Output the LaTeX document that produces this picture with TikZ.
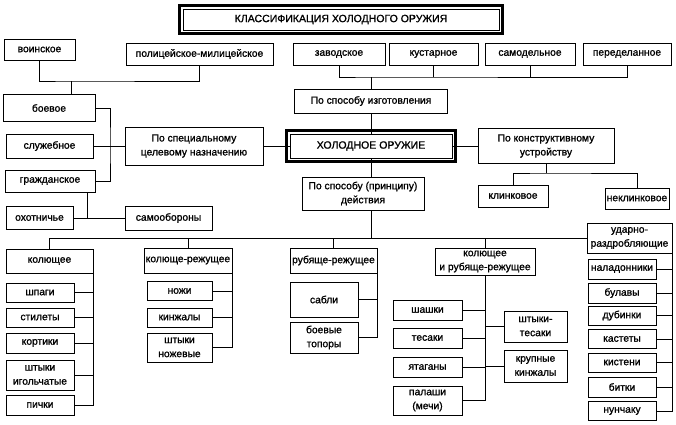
\documentclass[tikz,border=0pt]{standalone}
\usepackage{fontspec}
\setmainfont{Liberation Sans}[RawFeature={embolden=1.2}]
\usepackage{tikz}
\usetikzlibrary{positioning, calc}
\tikzset{box/.style = {draw, line width=0.6pt, inner xsep=0.5pt, inner ysep=1pt, align=center, font=\fontsize{7.7}{10.5}\selectfont},
         sz/.style 2 args = {minimum width=#1*0.75pt, minimum height=#2*0.75pt},
         head/.style = {font=\fontsize{7.9}{10.5}\selectfont},
         frame/.style = {line width=2.2pt}}

\begin{document}
\begin{tikzpicture}[x=0.75pt, y=-0.75pt, line width=0.6pt, every node/.style=box]
            \useasboundingbox (0,0) rectangle (676,425);
            \node[head, sz={316}{21}] (title) at (341,19.5) {КЛАССИФИКАЦИЯ ХОЛОДНОГО ОРУЖИЯ};
            \draw[frame] ([shift={(-3.5,-3.5)}]title.north west) rectangle ([shift={(3.5,3.5)}]title.south east);
            \node[sz={71}{21}]  (voin)    at ( 39.5, 49.5) {воинское};
            \node[sz={147}{22}] (pol)     at (199.5, 54)   {полицейское-милицейское};
            \node[sz={92}{22}]  (zav)     at (339,   54)   {заводское};
            \node[sz={89}{22}]  (kus)     at (433.5, 54)   {кустарное};
            \node[sz={90}{22}]  (samod)   at (530,   54)   {самодельное};
            \node[sz={88}{22}]  (per)     at (627,   54)   {переделанное};
            \node[sz={153}{24}] (sposizg) at (371,  101)   {По способу изготовления};
            \node[sz={92}{27}]  (boev)    at ( 49,  108)   {боевое};
            \node[sz={87}{24}]  (sluzh)   at ( 49.5,146)   {служебное};
            \node[sz={138}{38}] (spec)    at (194,  146)   {По специальному\\целевому назначению};
            \node[sz={90}{22}]  (grazh)   at ( 50,  181)   {гражданское};
            \node[sz={67}{23}]  (ohot)    at ( 39.5,218)   {охотничье};
            \node[sz={87}{24}]  (samoob)  at (168.5,218)   {самообороны};
            \node[head, sz={162}{24}] (holod) at (371,146) {ХОЛОДНОЕ ОРУЖИЕ};
            \draw[frame] ([shift={(-3.5,-3.5)}]holod.north west) rectangle ([shift={(3.5,3.5)}]holod.south east);
            \node[sz={136}{35}] (konstr)  at (546,  146)   {По конструктивному\\устройству};
            \node[sz={122}{33}] (deistv)  at (363,  193.5) {По способу (принципу)\\действия};
            \node[sz={70}{22}]  (klink)   at (513,  196)   {клинковое};
            \node[sz={64}{21}]  (neklink) at (637,  198.5) {неклинковое};
            \node[sz={85}{30}]  (udar)    at (629.5,238)   {ударно-\\раздробляющие};
            \node[sz={87}{24}]  (kol)     at ( 49.5,261)   {колющее};
            \node[sz={88}{25}]  (kolrezh) at (188,  260.5) {колюще-режущее};
            \node[sz={87}{25}]  (rubrezh) at (333.5,260.5) {рубяще-режущее};
            \node[sz={100}{27}] (kolrub)  at (485,  261.5) {колющее\\и рубяще-режущее};
            \node[sz={68}{19}]  (shpagi)   at ( 40, 292.5) {шпаги};
            \node[sz={68}{19}]  (stilety)  at ( 40, 317.5) {стилеты};
            \node[sz={68}{20}]  (kortiki)  at ( 40, 343)   {кортики};
            \node[sz={68}{30}]  (shtykiig) at ( 40, 375)   {штыки\\игольчатые};
            \node[sz={68}{20}]  (pichki)   at ( 40, 405)   {пички};
            \node[sz={65}{19}]  (nozhi)    at (179.5,291)  {ножи};
            \node[sz={65}{19}]  (kinzh)    at (179.5,317.5) {кинжалы};
            \node[sz={65}{29}]  (shtykinozh) at (179.5,347.5) {штыки\\ножевые};
            \node[sz={68}{35}]  (sabli)    at (324, 299.5) {сабли};
            \node[sz={68}{31}]  (topory)   at (324, 337.5) {боевые\\топоры};
            \node[sz={69}{20}]  (shashki)  at (427.5,310)  {шашки};
            \node[sz={69}{20}]  (tesaki)   at (427.5,338)  {тесаки};
            \node[sz={69}{20}]  (yatag)    at (427.5,367)  {ятаганы};
            \node[sz={69}{29}]  (palashi)  at (427.5,400.5) {палаши\\(мечи)};
            \node[sz={63}{31}]  (shtyktes) at (535.5,326.5) {штыки-\\тесаки};
            \node[sz={63}{32}]  (krupkinzh) at (535.5,366) {крупные\\кинжалы};
            \node[sz={68}{20}]  (naladon)  at (622, 269)   {наладонники};
            \node[sz={68}{20}]  (bulavy)   at (622, 293)   {булавы};
            \node[sz={68}{19}]  (dubinki)  at (622, 315.5) {дубинки};
            \node[sz={68}{19}]  (kastety)  at (622, 339)   {кастеты};
            \node[sz={68}{19}]  (kisteni)  at (622, 362.5) {кистени};
            \node[sz={68}{20}]  (bitki)    at (622, 387)   {битки};
            \node[sz={68}{19}]  (nunch)    at (622, 411)   {нунчаку};
            \coordinate (voinbus) at (71,81);
            \coordinate (izgbus) at (371,77);
            \coordinate (naznbus) at (110,146);
            \coordinate (grazhbus) at (87,218);
            \coordinate (konbus) at (546,173);
            \draw (voin.south) |- (voinbus) -| (pol.south);
            \draw (voinbus) -- (voinbus |- boev.north);
            \draw (zav.south) |- (izgbus) -| (per.south);
            \foreach \n in {kus,samod} \draw (\n.south) -- (\n.south |- izgbus);
            \draw (izgbus) -- (sposizg.north);
            \draw (sposizg.south) -- (holod.north);
            \draw (boev.east) -| (naznbus) |- (grazh.east);
            \draw (sluzh.east) -- (spec.west);
            \draw (spec.east) -- (holod.west);
            \draw (holod.east) -- (konstr.west);
            \draw (grazhbus |- grazh.south) -- (grazhbus);
            \draw (ohot.east) -- (samoob.west);
            \draw (konstr.south) -- (konbus);
            \draw (klink.north) |- (konbus) -| (neklink.north);
            \draw (holod.south) -- (holod.south |- deistv.north);
            \draw (holod.south |- deistv.south) -- (holod.south |- udar.west);
            \draw (kol.north) |- (udar.west);
            \foreach \n in {kolrezh,rubrezh,kolrub} \draw (\n.north) -- (\n.north |- udar.west);
            \draw (kol.south east) |- (pichki.east);
            \foreach \n in {shpagi,stilety,kortiki,shtykiig} \draw (\n.east) -- (\n.east -| kol.east);
            \draw (kolrezh.south east) |- (shtykinozh.east);
            \foreach \n in {nozhi,kinzh} \draw (\n.east) -- (\n.east -| kolrezh.east);
            \draw (rubrezh.south east) |- (topory.east);
            \draw (sabli.east) -- (sabli.east -| rubrezh.east);
            \draw (kolrub.south) |- (palashi.east);
            \foreach \n in {shashki,tesaki,yatag} \draw (\n.east) -- (\n.east -| kolrub.south);
            \foreach \n in {shtyktes,krupkinzh} \draw (\n.west) -- (\n.west -| kolrub.south);
            \draw (udar.south east) |- (nunch.east);
            \foreach \n in {naladon,bulavy,dubinki,kastety,kisteni,bitki} \draw (\n.east) -- (\n.east -| udar.east);
        \end{tikzpicture}
\end{document}
